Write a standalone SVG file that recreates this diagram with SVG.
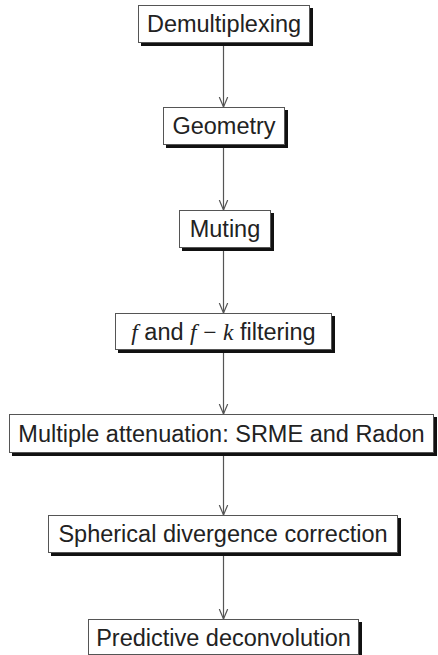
<svg xmlns="http://www.w3.org/2000/svg" width="438" height="655" viewBox="0 0 438 655">
<style>
.shadow{fill:#111;}
.box{fill:#fff;stroke:#555;stroke-width:1;}
.lbl{font-family:"Liberation Sans",Arial,sans-serif;font-size:23.5px;fill:#222;text-anchor:middle;}
.m{font-family:"Liberation Serif","Times New Roman",serif;font-style:italic;}
.op{font-family:"Liberation Serif","Times New Roman",serif;}
.edge{stroke:#555;stroke-width:1.2;fill:none;}
</style>
<defs>
<marker id="v" markerWidth="12" markerHeight="14" refX="10" refY="5" orient="auto" markerUnits="userSpaceOnUse">
<path d="M0,0.8 L10,5 L0,9.2" fill="none" stroke="#555" stroke-width="1.2"/>
</marker>
</defs>
<g id="connectors">
<line class="edge" x1="223.5" y1="46" x2="223.5" y2="107" marker-end="url(#v)"/>
<line class="edge" x1="223.5" y1="148" x2="223.5" y2="210" marker-end="url(#v)"/>
<line class="edge" x1="223.5" y1="251" x2="223.5" y2="313" marker-end="url(#v)"/>
<line class="edge" x1="223.5" y1="353" x2="223.5" y2="414" marker-end="url(#v)"/>
<line class="edge" x1="223.5" y1="456" x2="223.5" y2="515" marker-end="url(#v)"/>
<line class="edge" x1="223.5" y1="556" x2="223.5" y2="619" marker-end="url(#v)"/>
</g>
<g id="n1">
<rect class="shadow" x="141" y="8" width="172" height="38"/>
<rect class="box" x="138.5" y="5.5" width="171" height="37"/>
<text class="lbl" x="224" y="32">Demultiplexing</text>
</g>
<g id="n2">
<rect class="shadow" x="166" y="110" width="122" height="38"/>
<rect class="box" x="163.5" y="107.5" width="121" height="37"/>
<text class="lbl" x="224" y="134">Geometry</text>
</g>
<g id="n3">
<rect class="shadow" x="182" y="213" width="92" height="38"/>
<rect class="box" x="179.5" y="210.5" width="91" height="37"/>
<text class="lbl" x="225" y="237">Muting</text>
</g>
<g id="n4">
<rect class="shadow" x="118" y="316" width="217" height="37"/>
<rect class="box" x="115.5" y="313.5" width="216" height="36"/>
<text class="lbl" x="223.5" y="340"><tspan class="m">f</tspan> and <tspan class="m">f</tspan> <tspan class="op">−</tspan> <tspan class="m">k</tspan> filtering</text>
</g>
<g id="n5">
<rect class="shadow" x="12" y="417" width="425" height="39"/>
<rect class="box" x="9.5" y="414.5" width="424" height="38"/>
<text class="lbl" x="221.5" y="442">Multiple attenuation: SRME and Radon</text>
</g>
<g id="n6">
<rect class="shadow" x="51" y="518" width="350" height="38"/>
<rect class="box" x="48.5" y="515.5" width="349" height="37"/>
<text class="lbl" x="223" y="542">Spherical divergence correction</text>
</g>
<g id="n7">
<rect class="shadow" x="91" y="622" width="271" height="36"/>
<rect class="box" x="88.5" y="619.5" width="270" height="35"/>
<text class="lbl" x="223.5" y="646">Predictive deconvolution</text>
</g>
</svg>
